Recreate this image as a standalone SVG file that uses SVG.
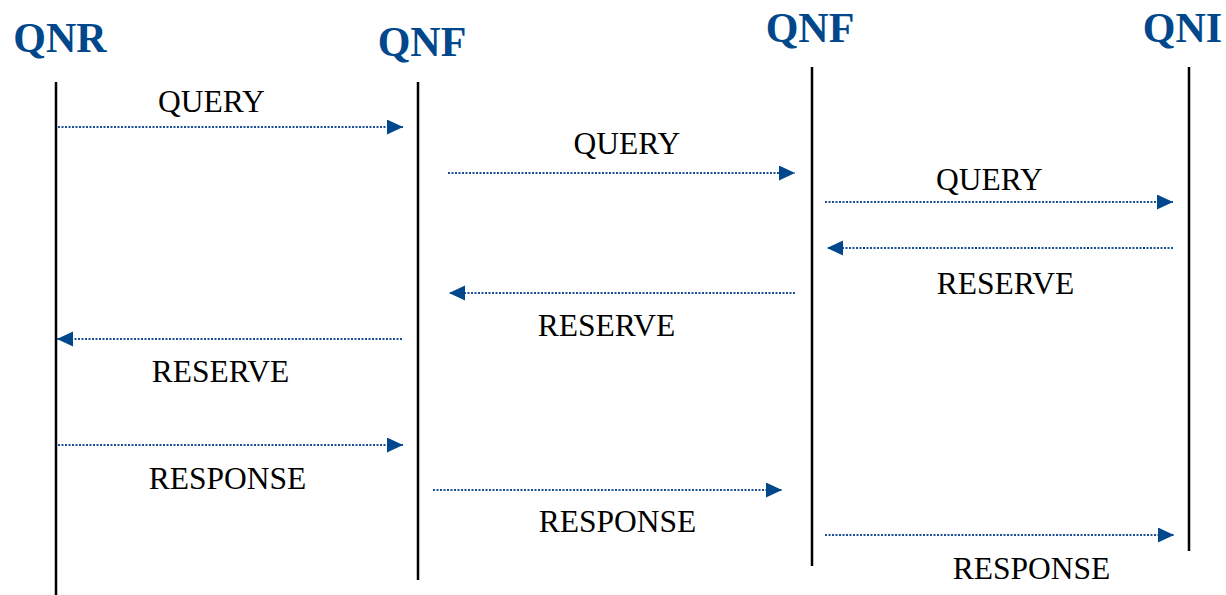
<svg xmlns="http://www.w3.org/2000/svg" width="1226" height="595" viewBox="0 0 1226 595">
<style>
.hdr{font-family:"Liberation Serif","Times New Roman",serif;font-weight:bold;font-size:42px;fill:#00478c;text-anchor:middle}
.lbl{font-family:"Liberation Serif","Times New Roman",serif;font-size:31.5px;fill:#000;text-anchor:middle}
.life{stroke:#000;stroke-width:2.5;fill:none}
.msg{stroke:#1a4f94;stroke-width:2;stroke-dasharray:2 1.5;fill:none;marker-end:url(#ah)}
</style>
<defs>
<marker id="ah" markerUnits="userSpaceOnUse" markerWidth="16" markerHeight="16" refX="16" refY="7.5" orient="auto">
<path d="M0,0 L16,7.5 L0,15 z" fill="#00478c"/>
</marker>
</defs>
<rect width="1226" height="595" fill="#fff"/>
<g id="qnr">
<text class="hdr" x="60" y="52">QNR</text>
<line class="life" x1="56" y1="82" x2="56" y2="595"/>
</g>
<g id="qnf1">
<text class="hdr" x="422" y="56">QNF</text>
<line class="life" x1="418" y1="82" x2="418" y2="580"/>
</g>
<g id="qnf2">
<text class="hdr" x="810" y="42">QNF</text>
<line class="life" x1="812" y1="67" x2="812" y2="566"/>
</g>
<g id="qni">
<text class="hdr" x="1182.5" y="42">QNI</text>
<line class="life" x1="1189" y1="67" x2="1189" y2="551"/>
</g>
<g id="connectors">
<line class="msg" x1="58" y1="127" x2="403" y2="127"/>
<text class="lbl" x="211.5" y="112">QUERY</text>
<line class="msg" x1="448" y1="173" x2="795" y2="173"/>
<text class="lbl" x="627" y="154">QUERY</text>
<line class="msg" x1="825" y1="202" x2="1173" y2="202"/>
<text class="lbl" x="989.5" y="190">QUERY</text>
<line class="msg" x1="1173" y1="248" x2="827" y2="248"/>
<text class="lbl" x="1005.5" y="294">RESERVE</text>
<line class="msg" x1="795" y1="293" x2="449" y2="293"/>
<text class="lbl" x="606.5" y="336">RESERVE</text>
<line class="msg" x1="402" y1="339" x2="57" y2="339"/>
<text class="lbl" x="220.5" y="382">RESERVE</text>
<line class="msg" x1="58" y1="445" x2="403" y2="445"/>
<text class="lbl" x="227.5" y="489">RESPONSE</text>
<line class="msg" x1="433" y1="490" x2="782" y2="490"/>
<text class="lbl" x="617.5" y="532">RESPONSE</text>
<line class="msg" x1="825" y1="535" x2="1174" y2="535"/>
<text class="lbl" x="1031.5" y="579">RESPONSE</text>
</g>
</svg>
